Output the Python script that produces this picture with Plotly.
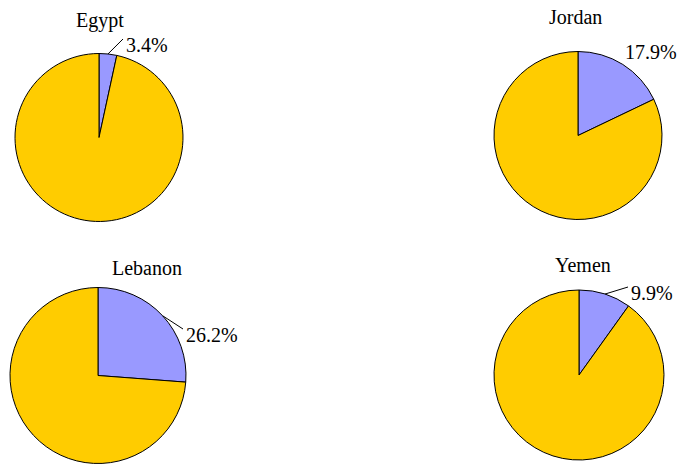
import math
import plotly.graph_objects as go

W, H = 677, 464

countries = ["Egypt", "Jordan", "Lebanon", "Yemen"]
share_pct = [3.4, 17.9, 26.2, 9.9]
slice_names = ["Share", "Rest"]
colors = ["#9999FF", "#FFCC00"]

# layout geometry in pixels: centre x, centre y, radius
geom = [(99, 137.5, 84), (578, 135.5, 84), (98, 375.5, 88), (579, 375, 85)]
title_pos = [(100, 20), (575, 17), (147, 268), (583, 265)]
label_pos = [(124, 45, True), (623, 52, False), (184, 335, True), (629, 293, True)]

FONT = "Liberation Serif, Times New Roman, serif"
FS = 20

def px(x):
    return x / W

def py(y):
    return 1 - y / H

fig = go.Figure()
annotations = []
shapes = []
for i, c in enumerate(countries):
    cx, cy, r = geom[i]
    v = share_pct[i]
    fig.add_trace(go.Pie(
        labels=slice_names,
        values=[v, 100 - v],
        sort=False,
        direction="clockwise",
        rotation=0,
        textinfo="none",
        hoverinfo="label+percent",
        marker=dict(colors=colors, line=dict(color="black", width=1)),
        domain=dict(x=[px(cx - r), px(cx + r)], y=[py(cy + r), py(cy - r)]),
        showlegend=False,
    ))
    tx, ty = title_pos[i]
    annotations.append(dict(text=c, x=px(tx), y=py(ty), xref="paper", yref="paper",
                            showarrow=False, xanchor="center", yanchor="middle",
                            font=dict(family=FONT, size=FS, color="black")))
    lx, ly, leader = label_pos[i]
    annotations.append(dict(text=f"{v}%", x=px(lx), y=py(ly), xref="paper", yref="paper",
                            showarrow=False, xanchor="left", yanchor="middle",
                            font=dict(family=FONT, size=FS, color="black")))
    if leader:
        ang = math.radians(v / 100 * 360 / 2)
        sx = cx + r * math.sin(ang)
        sy = cy - r * math.cos(ang)
        shapes.append(dict(type="line", xref="paper", yref="paper",
                           x0=px(sx), y0=py(sy), x1=px(lx - 1), y1=py(ly - 6 if ly < cy else ly - 4),
                           line=dict(color="black", width=1)))

fig.update_layout(
    width=W, height=H,
    margin=dict(l=0, r=0, t=0, b=0),
    paper_bgcolor="white", plot_bgcolor="white",
    annotations=annotations, shapes=shapes,
)
fig.write_html("out.html", config={"displayModeBar": False},
               post_script="document.body.style.margin='0';document.body.style.overflow='hidden';")
